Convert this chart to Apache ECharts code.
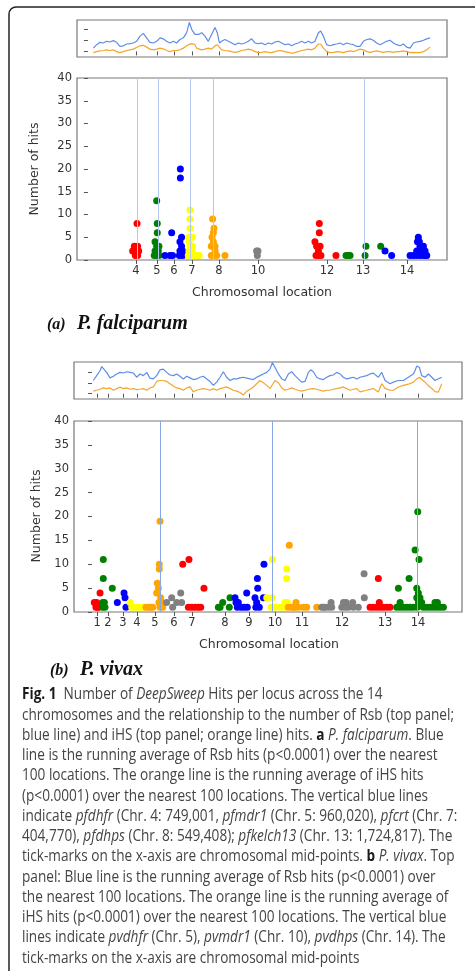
<!DOCTYPE html>
<html lang="en">
<head>
<meta charset="UTF-8">
<title>DeepSweep hits per locus</title>
<script src="https://cdn.jsdelivr.net/npm/echarts@6.0.0/dist/echarts.min.js"></script>
<style>
  html, body { margin: 0; padding: 0; background: #fff; }
  #chart { width: 475px; height: 971px; }
</style>
</head>
<body>
<div id="chart"></div>
<script>
// x positions are genome coordinates (Mb, chromosomes laid end to end)

// ---------- (a) P. falciparum ----------
const midsA = [3.2, 4.6, 5.73, 6.93, 8.73, 11.33, 15.93, 18.33, 21.27]
const chromA = ['4', '5', '6', '7', '8', '10', '12', '13', '14']
const genesA = [3.27, 4.67, 6.8, 8.33, 18.4]

const topXA = [0.36,0.58,0.80,1.02,1.24,1.47,1.69,1.91,2.13,2.36,
  2.58,2.80,3.02,3.24,3.47,3.69,3.80,3.91,4.13,4.36,
  4.58,4.80,5.02,5.24,5.47,5.69,5.91,6.13,6.36,6.58,
  6.76,6.91,7.13,7.24,7.36,7.58,7.80,8.02,8.24,8.47,
  8.62,8.76,8.91,9.13,9.36,9.58,9.80,10.02,10.24,10.47,
  10.69,10.91,11.13,11.36,11.58,11.80,12.02,12.24,12.47,12.69,
  12.91,13.13,13.36,13.58,13.80,14.02,14.24,14.47,14.69,14.91,
  15.13,15.36,15.51,15.69,15.91,16.13,16.36,16.58,16.80,17.02,
  17.24,17.47,17.69,17.91,18.13,18.36,18.58,18.80,19.02,19.24,
  19.47,19.69,19.91,20.13,20.36,20.58,20.80,21.02,21.24,21.47,
  21.69,21.91,22.13,22.36,22.58,22.80]
const rsbA = [0.29,0.60,0.81,0.75,0.90,0.84,0.96,0.81,0.44,0.50,
  0.66,0.69,0.75,0.90,1.36,1.61,1.67,1.21,0.81,0.75,
  0.90,1.21,1.12,0.90,0.75,0.90,0.75,1.06,1.21,1.67,
  2.58,1.97,1.52,1.45,1.51,1.67,1.36,0.90,1.51,2.13,
  1.67,0.75,0.90,1.06,0.90,0.75,0.60,0.75,0.66,0.75,
  0.90,1.12,0.75,0.69,0.75,0.60,0.75,0.66,0.84,0.90,
  0.75,0.60,0.66,0.50,0.66,0.75,0.90,0.75,0.90,0.75,
  0.90,1.67,1.82,1.36,0.60,0.50,0.60,0.66,0.75,0.60,
  0.75,0.66,0.60,0.44,0.44,0.90,1.06,1.12,0.99,0.75,
  0.60,0.75,0.90,0.99,0.75,0.60,0.50,0.66,0.38,0.29,
  0.75,0.84,0.90,0.99,1.12,1.21]
const ihsA = [-0.11,-0.02,0.05,0.08,0.14,0.08,0.14,-0.02,-0.11,-0.02,
  0.08,0.14,0.20,0.35,0.50,0.54,0.54,0.38,0.20,0.14,
  0.20,0.29,0.23,0.08,-0.02,0.08,0.08,0.14,0.29,0.50,
  0.63,0.69,0.60,0.29,0.20,0.14,0.20,0.29,0.20,0.50,
  0.60,0.38,0.14,0.08,0.05,-0.02,-0.08,-0.02,0.08,0.14,
  0.20,0.14,-0.02,-0.11,-0.08,-0.02,-0.08,-0.11,-0.02,0.08,
  0.05,-0.02,-0.08,-0.17,-0.11,-0.02,0.08,0.14,0.20,0.14,
  0.29,0.66,0.66,0.29,-0.02,-0.11,-0.08,-0.02,-0.05,-0.11,
  -0.02,0.05,-0.02,0.08,0.20,0.14,-0.02,-0.08,-0.02,0.05,
  -0.02,-0.08,-0.02,-0.02,-0.08,-0.02,-0.02,0.05,-0.02,-0.11,
  -0.08,-0.11,-0.11,-0.02,0.14,0.38]

const redA = [[3.27,8],[3.09,3],[3.31,3],[2.98,2],[3.2,2],[3.38,2],[3.16,1],[3.31,1],
  [15.42,8],[15.42,6],[15.13,4],[15.24,3],[15.47,3],[15.36,2],[15.2,1],[15.36,1],[15.53,1],[16.53,1]]
const greenA = [[4.58,13],[4.62,8],[4.62,6],[4.47,4],[4.58,3],[4.73,3],[4.47,2],[4.69,2],[4.42,1],[4.58,1],[4.73,1],
  [17.2,1],[17.36,1],[17.47,1],[18.53,3],[18.47,1],[19.51,3]]
const blueA = [[5.13,1],[5.47,1],[5.64,1],[5.58,6],[6.16,20],[6.16,18],[6.24,5],[6.13,4],[6.24,3],[6.13,2],[6.31,2],[6.09,1],[6.31,1],
  [19.8,2],[20.24,1],[21.47,1],[21.69,1],[21.91,1],[22.13,1],[22.36,1],[22.58,1],[22.02,5],[22.09,4],[21.96,4],
  [22.13,3],[22.36,3],[22.24,2],[21.91,2],[22.47,2],[22.53,1]]
const yellowA = [[6.8,11],[6.8,9],[6.8,7],[6.73,5],[6.96,5],[6.73,4],[6.8,3],[6.96,3],[6.73,2],[6.91,2],
  [6.69,1],[6.84,1],[7.07,1],[7.24,1],[7.42,1]]
const orangeA = [[8.31,9],[8.4,7],[8.36,6],[8.27,5],[8.36,4],[8.22,3],[8.47,3],[8.47,2],[8.22,1],[8.4,1],[8.58,1],[9.13,1]]
const greyA = [[11.24,2],[11.33,2],[11.29,1]]

// ---------- (b) P. vivax ----------
const midsB = [0.42, 1.33, 2.58, 3.75, 5.25, 6.83, 8.33, 11.08, 13.08, 15.25, 17.5, 20.83, 24.42, 27.17]
const chromB = ['1', '2', '3', '4', '5', '6', '7', '8', '9', '10', '11', '12', '13', '14']
const genesB = [5.67, 15.0, 27.08]

const topXB = [0.11,0.39,0.67,0.81,0.94,1.22,1.50,1.78,2.06,2.33,
  2.61,2.89,3.17,3.44,3.72,4.00,4.28,4.56,4.83,5.11,
  5.39,5.67,5.94,6.22,6.50,6.78,7.06,7.33,7.61,7.89,
  8.17,8.44,8.72,9.00,9.28,9.56,9.83,10.11,10.39,10.67,
  10.94,11.22,11.50,11.78,12.06,12.33,12.61,12.89,13.17,13.44,
  13.72,14.00,14.28,14.56,14.83,15.03,15.25,15.53,15.81,16.08,
  16.36,16.64,16.92,17.19,17.47,17.75,18.03,18.22,18.44,18.72,
  19.00,19.28,19.56,19.83,20.11,20.39,20.67,20.94,21.22,21.50,
  21.78,22.06,22.33,22.89,23.17,23.44,23.58,23.86,24.14,24.42,
  24.56,24.83,25.11,25.53,25.94,26.36,26.50,26.78,26.92,27.06,
  27.28,27.47,27.61,27.75,27.89,28.03,28.31,28.58,28.72,28.86,
  29.00,29.14]
const rsbB = [1.25,1.71,2.17,2.57,2.48,2.02,1.50,1.65,1.87,2.02,
  1.96,2.08,2.02,1.96,1.56,1.87,1.71,2.02,1.47,1.40,
  1.71,2.26,2.33,2.02,1.77,1.71,1.87,1.65,1.40,1.65,
  1.50,1.34,1.40,1.56,1.65,1.40,1.16,0.79,1.10,1.56,
  2.08,1.56,1.25,1.40,1.40,1.50,1.56,1.47,1.40,1.34,
  1.56,1.71,1.87,2.02,2.33,2.94,2.48,1.87,1.40,1.25,
  1.87,2.08,1.71,1.40,1.10,1.16,2.02,2.26,2.08,1.56,
  1.40,1.34,1.56,1.71,1.77,2.02,1.87,1.56,1.40,1.47,
  1.56,1.40,1.56,1.71,1.87,1.95,2.02,1.56,2.02,1.25,
  1.10,0.95,1.10,1.25,1.25,1.56,1.65,1.87,2.20,2.63,
  2.48,1.71,1.60,1.56,1.70,1.87,1.56,1.25,1.33,1.41,
  1.48,1.56]
const ihsB = [0.24,0.33,0.42,0.48,0.55,0.48,0.55,0.33,0.48,0.64,
  0.48,0.55,0.42,0.48,0.39,0.42,0.48,0.33,0.55,0.64,
  1.16,1.25,1.25,1.16,0.94,0.73,0.55,0.48,0.33,0.55,
  0.64,0.18,0.33,0.42,0.48,0.42,0.33,0.48,0.33,0.48,
  0.55,0.64,0.48,0.33,0.24,0.12,-0.13,0.24,0.42,0.64,
  0.94,1.25,1.04,0.79,0.48,0.85,1.25,1.04,0.55,0.33,
  0.42,0.55,0.42,0.33,0.24,0.33,0.42,0.45,0.48,0.42,
  0.33,0.24,0.33,0.33,0.42,0.48,0.55,0.64,0.48,0.33,
  0.42,0.48,0.17,0.33,0.41,0.49,0.35,0.17,0.95,0.50,
  0.33,0.33,0.33,0.64,0.79,0.90,0.95,1.10,1.25,1.40,
  1.56,1.35,1.25,1.10,0.95,0.75,0.49,0.20,0.03,0.15,
  0.33,0.95]

const redB = [[0.19,2],[0.39,2],[0.33,1],[0.56,1],[0.44,1],[0.67,4],
  [7.56,10],[8.08,11],[8.03,1],[8.31,1],[8.58,1],[8.86,1],[9.06,1],[9.33,5],
  [23.17,1],[23.44,1],[23.72,1],[24.0,1],[24.28,1],[24.56,1],[24.83,1],[23.86,7],[23.94,2]]
const greenB = [[0.94,11],[0.94,7],[0.89,2],[1.03,2],[0.89,1],[1.08,1],[1.69,5],
  [10.53,1],[10.67,1],[10.89,2],[11.44,1],[11.5,3],
  [25.53,5],[26.42,7],[26.92,13],[27.14,21],[27.25,11],[27.06,5],[27.19,4],[27.33,3],[27.47,2],
  [25.39,1],[25.67,1],[25.94,1],[26.22,1],[26.5,1],[26.78,1],[27.61,1],[27.89,1],[28.17,1],
  [28.44,1],[28.72,1],[29.0,1],[29.28,1],[25.67,2],[28.58,2],[28.78,2],[27.06,3],[27.2,2],[27.1,1]]
const blueB = [[2.11,2],[2.67,4],[2.75,3],[2.83,1],
  [11.92,3],[12.0,2],[12.11,1],[12.19,2],[12.42,1],[12.67,1],[12.94,1],[12.89,4],[13.58,3],[13.65,1],
  [13.78,7],[13.81,5],[13.72,2],[13.94,1],[14.33,10],[14.28,3]]
const yellowB = [[3.17,2],[3.31,1],[3.5,1],[3.72,1],[3.94,1],[4.14,1],[4.28,1],
  [14.56,3],[15.03,11],[15.03,3],[14.92,1],[15.25,1],[15.67,1],[15.94,1],
  [16.22,9],[16.22,7],[16.08,2],[16.28,2],[16.15,1]]
const orangeB = [[4.5,1],[4.69,1],[4.89,1],[5.06,1],[5.67,19],[5.61,10],[5.61,9],[5.44,6],[5.53,5],[5.39,4],
  [5.72,3],[5.58,2],[5.83,2],[5.67,1],[5.89,1],
  [16.44,14],[16.36,1],[16.64,1],[16.78,1],[16.92,1],[17.19,1],[17.61,1],[17.89,1],[17.0,2],[18.72,1]]
const greyB = [[6.22,2],[6.64,3],[6.72,1],[7.06,2],[7.39,4],[7.47,2],
  [19.14,1],[19.3,1],[19.42,1],[19.69,1],[19.97,1],[19.92,2],[20.81,1],[20.95,2],[21.08,1],[21.36,1],
  [21.78,1],[22.19,1],[21.17,2],[21.72,2],[22.67,8],[22.69,3]]

const captionLines = [
  '{b|Fig. 1}  Number of {i|DeepSweep} Hits per locus across the 14',
  'chromosomes and the relationship to the number of Rsb (top panel;',
  'blue line) and iHS (top panel; orange line) hits. {b|a} {i|P. falciparum}. Blue',
  'line is the running average of Rsb hits (p<0.0001) over the nearest',
  '100 locations. The orange line is the running average of iHS hits',
  '(p<0.0001) over the nearest 100 locations. The vertical blue lines',
  'indicate {i|pfdhfr} (Chr. 4: 749,001, {i|pfmdr1} (Chr. 5: 960,020), {i|pfcrt} (Chr. 7:',
  '404,770), {i|pfdhps} (Chr. 8: 549,408); {i|pfkelch13} (Chr. 13: 1,724,817). The',
  'tick-marks on the x-axis are chromosomal mid-points. {b|b} {i|P. vivax}. Top',
  'panel: Blue line is the running average of Rsb hits (p<0.0001) over',
  'the nearest 100 locations. The orange line is the running average of',
  'iHS hits (p<0.0001) over the nearest 100 locations. The vertical blue',
  'lines indicate {i|pvdhfr} (Chr. 5), {i|pvmdr1} (Chr. 10), {i|pvdhps} (Chr. 14). The',
  'tick-marks on the x-axis are chromosomal mid-points'
]

const DOT = { red: '#ff0000', green: '#008000', blue: '#0000ff', yellow: '#ffff00', orange: '#ffa500', grey: '#808080' }
const AXIS = '#555'
const TICKFONT = { fontFamily: 'DejaVu Sans', fontSize: 11.5, color: '#333' }

function chromLabel(mids, labels) {
  return function (v) {
    let k = 0
    for (let i = 1; i < mids.length; i++) {
      if (Math.abs(mids[i] - v) < Math.abs(mids[k] - v)) k = i
    }
    return labels[k]
  }
}

function grid(left, top, width, height) {
  return { left, top, width, height, show: true, borderColor: '#777', borderWidth: 1.2,
    backgroundColor: 'transparent', containLabel: false, outerBoundsMode: 'none' }
}

function xAxisFor(gi, min, max, mids, labels) {
  return {
    type: 'value', gridIndex: gi, min, max,
    axisLine: { show: false }, splitLine: { show: false },
    axisTick: { show: true, customValues: mids, length: 4, lineStyle: { color: AXIS } },
    axisLabel: labels
      ? Object.assign({ show: true, customValues: mids, formatter: chromLabel(mids, labels), margin: 5 }, TICKFONT)
      : { show: false }
  }
}

function yTop(gi, max) {
  return { type: 'value', gridIndex: gi, min: -0.5, max,
    axisLine: { show: false }, splitLine: { show: false },
    axisTick: { show: true, customValues: [0, 1, 2], length: 4, lineStyle: { color: AXIS } },
    axisLabel: { show: false } }
}

function yMain(gi) {
  return { type: 'value', gridIndex: gi, min: 0, max: 40, interval: 5,
    axisLine: { show: false }, splitLine: { show: false },
    axisTick: { show: true, length: 4, lineStyle: { color: AXIS } },
    axisLabel: Object.assign({ margin: 5 }, TICKFONT) }
}

function runLine(gi, xs, ys, color) {
  return { type: 'line', xAxisIndex: gi, yAxisIndex: gi, data: xs.map((x, i) => [x, ys[i]]),
    showSymbol: false, silent: true, lineStyle: { color, width: 1.2 }, z: 2 }
}

function geneLines(gi, xs, color) {
  return { type: 'line', xAxisIndex: gi, yAxisIndex: gi, data: [], silent: true, z: 1,
    markLine: { symbol: 'none', silent: true, label: { show: false },
      lineStyle: { color, width: 1, type: 'solid' }, data: xs.map(v => ({ xAxis: v })) } }
}

function dots(gi, data, color) {
  return { type: 'scatter', xAxisIndex: gi, yAxisIndex: gi, data, symbolSize: 7, silent: true,
    itemStyle: { color, opacity: 1 }, z: 3 }
}

// caption is drawn with a humanist sans squeezed to the width of the original lines
const CAPFONT = 15.5
const ctx = document.createElement('canvas').getContext('2d')
ctx.font = CAPFONT + 'px "Open Sans"'
const capScale = 432 / ctx.measureText(captionLines[1]).width

const capRich = {
  b: { fontFamily: 'Open Sans', fontSize: CAPFONT, fontWeight: 'bold', fill: '#1a1a1a' },
  i: { fontFamily: 'Open Sans', fontSize: CAPFONT, fontStyle: 'italic', fill: '#444' }
}

const FRAME = { stroke: '#222', lineWidth: 1.5, fill: null }
const graphics = [
  // frame: left and top edges with a rounded corner
  { type: 'line', shape: { x1: 9, y1: 14, x2: 9, y2: 971 }, style: FRAME, silent: true },
  { type: 'line', shape: { x1: 16, y1: 7, x2: 475, y2: 7 }, style: FRAME, silent: true },
  { type: 'arc', shape: { cx: 16, cy: 14, r: 7, startAngle: Math.PI, endAngle: Math.PI * 1.5 }, style: FRAME, silent: true },
  { type: 'text', x: 35, y: 169, rotation: Math.PI / 2,
    style: { text: 'Number of hits', font: '12.5px "DejaVu Sans"', fill: '#333', align: 'center', verticalAlign: 'middle' } },
  { type: 'text', x: 37, y: 516, rotation: Math.PI / 2,
    style: { text: 'Number of hits', font: '12.5px "DejaVu Sans"', fill: '#333', align: 'center', verticalAlign: 'middle' } },
  { type: 'text', x: 262, y: 293,
    style: { text: 'Chromosomal location', font: '12.5px "DejaVu Sans"', fill: '#333', align: 'center', verticalAlign: 'middle' } },
  { type: 'text', x: 269, y: 645,
    style: { text: 'Chromosomal location', font: '12.5px "DejaVu Sans"', fill: '#333', align: 'center', verticalAlign: 'middle' } },
  { type: 'text', x: 47, y: 325,
    style: { text: '(a)', font: 'italic bold 16px "Liberation Serif"', fill: '#111', verticalAlign: 'middle' } },
  { type: 'text', x: 77, y: 324,
    style: { text: 'P. falciparum', font: 'italic bold 20px "Liberation Serif"', fill: '#111', verticalAlign: 'middle' } },
  { type: 'text', x: 50, y: 671,
    style: { text: '(b)', font: 'italic bold 16px "Liberation Serif"', fill: '#111', verticalAlign: 'middle' } },
  { type: 'text', x: 80, y: 670,
    style: { text: 'P. vivax', font: 'italic bold 20px "Liberation Serif"', fill: '#111', verticalAlign: 'middle' } }
]
captionLines.forEach((line, i) => {
  graphics.push({ type: 'text', x: 22, y: 695 + i * 20.25, scaleX: capScale, silent: true,
    style: { text: line, fontFamily: 'Open Sans', fontSize: CAPFONT, fill: '#444',
      verticalAlign: 'middle', rich: capRich } })
})

const chart = echarts.init(document.getElementById('chart'))
chart.setOption({
  animation: false,
  backgroundColor: '#fff',
  grid: [grid(77, 20, 370, 37), grid(77, 78, 370, 182), grid(74, 362, 388, 37), grid(74, 421, 388, 191)],
  xAxis: [
    xAxisFor(0, -0.73, 23.93, midsA, null),
    xAxisFor(1, -0.73, 23.93, midsA, chromA),
    xAxisFor(2, -1.5, 30.83, midsB, null),
    xAxisFor(3, -1.5, 30.83, midsB, chromB)
  ],
  yAxis: [yTop(0, 2.8), yMain(1), yTop(2, 3.0), yMain(3)],
  series: [
    runLine(0, topXA, rsbA, '#5f8de6'),
    runLine(0, topXA, ihsA, '#f4a62a'),
    runLine(2, topXB, rsbB, '#5f8de6'),
    runLine(2, topXB, ihsB, '#f4a62a'),
    geneLines(1, genesA, '#b4c8f0'),
    geneLines(3, genesB, '#86a8e8'),
    dots(1, redA, DOT.red), dots(1, greenA, DOT.green), dots(1, blueA, DOT.blue),
    dots(1, yellowA, DOT.yellow), dots(1, orangeA, DOT.orange), dots(1, greyA, DOT.grey),
    dots(3, redB, DOT.red), dots(3, greenB, DOT.green), dots(3, blueB, DOT.blue),
    dots(3, yellowB, DOT.yellow), dots(3, orangeB, DOT.orange), dots(3, greyB, DOT.grey)
  ],
  graphic: graphics
})
</script>
</body>
</html>
